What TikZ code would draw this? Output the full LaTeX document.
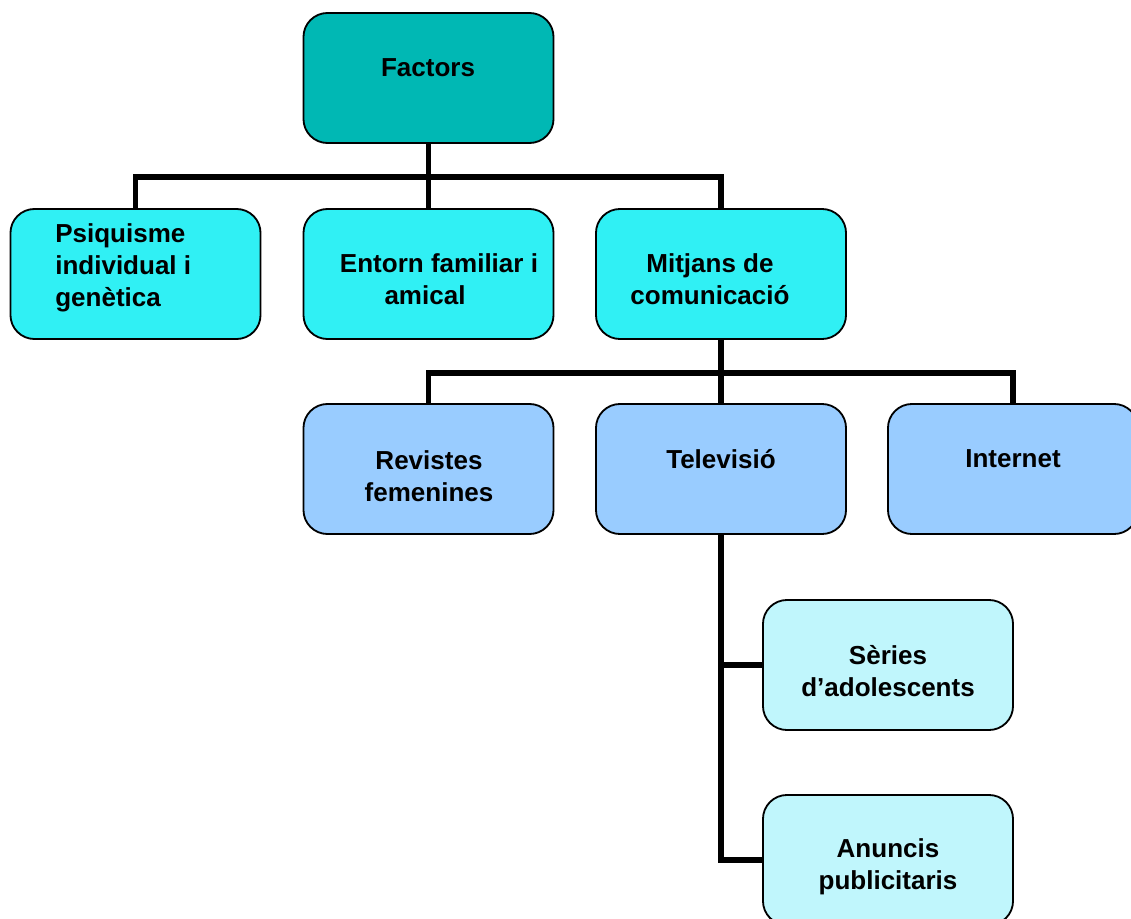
\documentclass[tikz,border=0pt]{standalone}
\usepackage{fontspec}
\setmainfont{Liberation Sans}
\definecolor{topcol}{HTML}{00B8B4}
\definecolor{midcol}{HTML}{30F0F4}
\definecolor{lowcol}{HTML}{99CCFF}
\definecolor{subcol}{HTML}{C0F6FC}
\begin{document}
\begin{tikzpicture}[x=0.025cm,y=-0.025cm,
   box/.style={draw=black,line width=1.3pt,rounded corners=0.6cm,
     minimum width=6.25cm,minimum height=3.25cm,inner sep=0pt},
   txt/.style={font=\bfseries\fontsize{18.5}{22.7}\selectfont,align=center,inner sep=0pt},
   conn/.style={line width=4pt}]
   \useasboundingbox (0,0) rectangle (1131,919);
   \clip (0,0) rectangle (1131,919);

   \node[box,fill=topcol] (factors) at (428.5,78) {};
   \node[box,fill=midcol] (psiq) at (135.5,274) {};
   \node[box,fill=midcol] (entorn) at (428.5,274) {};
   \node[box,fill=midcol] (mitjans) at (721,274) {};
   \node[box,fill=lowcol] (revistes) at (428.5,469) {};
   \node[box,fill=lowcol] (tele) at (721,469) {};
   \node[box,fill=lowcol] (internet) at (1013,469) {};
   \node[box,fill=subcol] (series) at (888,665) {};
   \node[box,fill=subcol] (anuncis) at (888,860) {};

   \node[txt] (tfactors) at (428,68) {Factors};
   \node[txt,align=left,anchor=west] (tpsiq) at (55,268) {Psiquisme\\individual i\\genètica};
   \node[txt] (tentorn) at (432,279) {\hspace*{0.35cm}Entorn familiar i\\amical\hspace*{0.35cm}};
   \node[txt] (tmitjans) at (710,279) {Mitjans de\\comunicació};
   \node[txt] (trevistes) at (429,476) {Revistes\\femenines};
   \node[txt] (ttele) at (721,459) {Televisió};
   \node[txt] (tinternet) at (1013,459) {Internet};
   \node[txt] (tseries) at (888,671) {Sèries\\d’adolescents};
   \node[txt] (tanuncis) at (888,867) {Anuncis\\publicitaris};

   \coordinate (bus1) at (428.5,177);
   \coordinate (bus2) at (721,373);
   \draw[conn] (factors.south) -- (bus1);
   \draw[conn] (psiq.north) |- (bus1);
   \draw[conn] (entorn.north) -- (bus1);
   \draw[conn] (mitjans.north) |- (bus1);
   \draw[conn] (mitjans.south) -- (bus2);
   \draw[conn] (revistes.north) |- (bus2);
   \draw[conn] (tele.north) -- (bus2);
   \draw[conn] (internet.north) |- (bus2);
   \draw[conn] (tele.south) |- (series.west);
   \draw[conn] (tele.south) |- (anuncis.west);
\end{tikzpicture}
\end{document}
